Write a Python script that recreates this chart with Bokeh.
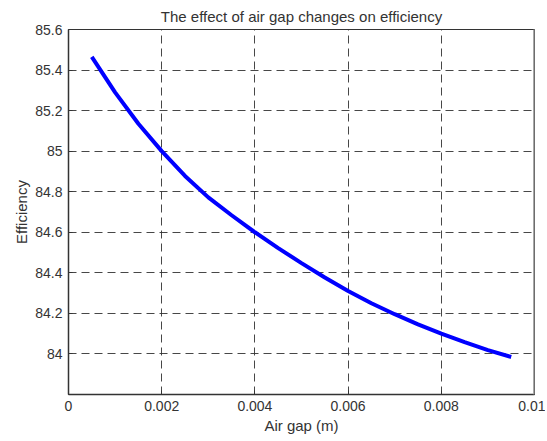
from bokeh.plotting import figure
from bokeh.models import FixedTicker, Range1d, Span
from bokeh.embed import file_html
from bokeh.resources import INLINE

# Data
air_gap = [0.0005, 0.0010, 0.0015, 0.0020, 0.0025, 0.0030, 0.0035, 0.0040,
           0.0045, 0.0050, 0.0055, 0.0060, 0.0065, 0.0070, 0.0075, 0.0080,
           0.0085, 0.0090, 0.0095]
efficiency = [85.465, 85.29, 85.135, 85.00, 84.878, 84.772, 84.684, 84.60,
              84.522, 84.448, 84.377, 84.31, 84.25, 84.196, 84.146, 84.10,
              84.058, 84.019, 83.985]

x_ticks = [0, 0.002, 0.004, 0.006, 0.008, 0.01]
x_tick_labels = ["0", "0.002", "0.004", "0.006", "0.008", "0.01"]
y_ticks = [84.0, 84.2, 84.4, 84.6, 84.8, 85.0, 85.2, 85.4, 85.6]
y_tick_labels = ["84", "84.2", "84.4", "84.6", "84.8", "85", "85.2", "85.4", "85.6"]

FONT = "Liberation Sans"
TXT = "#333333"

p = figure(width=545, height=439, output_backend="svg", toolbar_location=None,
           x_range=Range1d(0, 0.01), y_range=Range1d(83.8, 85.6),
           min_border_left=68, min_border_right=11, min_border_top=28,
           min_border_bottom=45,
           title="The effect of air gap changes on efficiency")

p.title.text_font = FONT
p.title.text_font_size = "15px"
p.title.text_font_style = "normal"
p.title.text_color = TXT
p.title.align = "center"
p.title.standoff = 10

p.background_fill_color = "white"
p.border_fill_color = "white"
p.outline_line_color = "#333333"
p.outline_line_width = 1

for ax, ticks, labels in ((p.xaxis[0], x_ticks, x_tick_labels),
                          (p.yaxis[0], y_ticks, y_tick_labels)):
    ax.ticker = FixedTicker(ticks=ticks)
    ax.major_label_overrides = {t: l for t, l in zip(ticks, labels)}
    ax.major_label_text_font = FONT
    ax.major_label_text_font_size = "14px"
    ax.major_label_text_color = TXT
    ax.axis_label_text_font = FONT
    ax.axis_label_text_font_size = "15px"
    ax.axis_label_text_font_style = "normal"
    ax.axis_label_text_color = TXT
    ax.axis_line_color = "#333333"
    ax.axis_line_width = 1.5
    ax.major_tick_in = 4
    ax.major_tick_out = 0
    ax.major_tick_line_color = "#333333"
    ax.minor_tick_line_color = None
    ax.major_label_standoff = 6

p.xaxis[0].axis_label = "Air gap (m)"
p.xaxis[0].axis_label_standoff = 3
p.yaxis[0].axis_label = "Efficiency"
p.yaxis[0].axis_label_standoff = 2

p.xgrid.ticker = FixedTicker(ticks=x_ticks)
p.ygrid.ticker = FixedTicker(ticks=y_ticks)
for g in (p.xgrid[0], p.ygrid[0]):
    g.grid_line_color = "#333333"
    g.grid_line_dash = "8 5"
    g.grid_line_width = 1
    g.grid_line_alpha = 0.9

p.line(air_gap, efficiency, line_color="#0000ff", line_width=4)

right_border = Span(location=0.01, dimension="height", line_color="#a8a8a8",
                    line_width=3)
p.add_layout(right_border)

open("out.html", "w").write(file_html(p, INLINE))
